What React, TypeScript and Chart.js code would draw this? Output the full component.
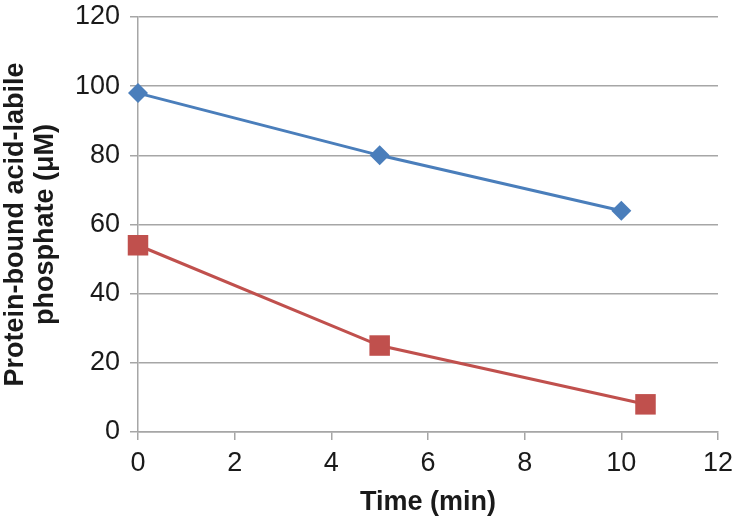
import React, { useEffect, useRef } from "react";
import { Chart, registerables } from "chart.js";

Chart.register(...registerables);

const seriesAX = [0, 5, 10];
const seriesAY = [98, 80, 64];
const seriesBX = [0, 5, 10.5];
const seriesBY = [54, 25, 8];
const xTitle = "Time (min)";
const yTitle = ["Protein-bound acid-labile", "phosphate (\u03bcM)"];

const FONT = "'Liberation Sans', Arial, Helvetica, sans-serif";
const SIZE = 27;

const zeroPad = (s: any) => {
  s.paddingTop = 0;
  s.paddingBottom = 0;
  s.paddingLeft = 0;
  s.paddingRight = 0;
};

export default function App() {
  const ref = useRef<HTMLCanvasElement | null>(null);
  useEffect(() => {
    document.body.style.margin = "0";
    const ctx = ref.current!.getContext("2d")!;
    const chart = new Chart(ctx, {
      type: "scatter",
      data: {
        datasets: [
          {
            data: seriesAX.map((x, i) => ({ x, y: seriesAY[i] })),
            showLine: true,
            borderColor: "#4A7EBB",
            backgroundColor: "#4A7EBB",
            borderWidth: 3,
            pointStyle: "rectRot",
            pointRadius: 10,
            pointHoverRadius: 10,
            pointBorderWidth: 0,
            clip: false,
          } as any,
          {
            data: seriesBX.map((x, i) => ({ x, y: seriesBY[i] })),
            showLine: true,
            borderColor: "#C0504D",
            backgroundColor: "#C0504D",
            borderWidth: 3,
            pointStyle: "rect",
            pointRadius: 14.5,
            pointHoverRadius: 14.5,
            pointBorderWidth: 0,
            clip: false,
          } as any,
        ],
      },
      options: {
        animation: false,
        responsive: false,
        layout: { padding: { top: 17, right: 16, left: 0, bottom: 0 } },
        plugins: { legend: { display: false }, tooltip: { enabled: false } },
        scales: {
          x: {
            type: "linear",
            min: 0,
            max: 12,
            afterFit: (s: any) => {
              s.height = 87;
              zeroPad(s);
            },
            ticks: {
              stepSize: 2,
              padding: 7,
              color: "#1a1a1a",
              font: { family: FONT, size: SIZE },
              maxRotation: 0,
            },
            grid: {
              drawOnChartArea: false,
              drawTicks: true,
              tickLength: 8,
              color: "#A6A6A6",
              lineWidth: 1.5,
            },
            border: { display: true, color: "#A6A6A6", width: 1.5 },
            title: {
              display: true,
              text: xTitle,
              color: "#1a1a1a",
              font: { family: FONT, size: SIZE, weight: "bold", lineHeight: 1.2 },
              padding: { top: 0, bottom: 0 },
            },
          },
          y: {
            type: "linear",
            min: 0,
            max: 120,
            afterFit: (s: any) => {
              s.width = 138;
              zeroPad(s);
            },
            ticks: {
              stepSize: 20,
              padding: 10,
              color: "#1a1a1a",
              font: { family: FONT, size: SIZE },
            },
            grid: {
              drawOnChartArea: true,
              drawTicks: true,
              tickLength: 8,
              color: "#A6A6A6",
              lineWidth: 1.5,
            },
            border: { display: true, color: "#A6A6A6", width: 1.5 },
            title: {
              display: true,
              text: yTitle,
              color: "#1a1a1a",
              font: { family: FONT, size: SIZE, weight: "bold", lineHeight: 1.11 },
              padding: { top: 1, bottom: 0 },
            },
          },
        },
      },
    });
    return () => chart.destroy();
  }, []);
  return (
    <div style={{ position: "absolute", left: 0, top: 0, width: 734, height: 519, background: "#fff" }}>
      <canvas ref={ref} width={734} height={519} style={{ display: "block" }} />
    </div>
  );
}
